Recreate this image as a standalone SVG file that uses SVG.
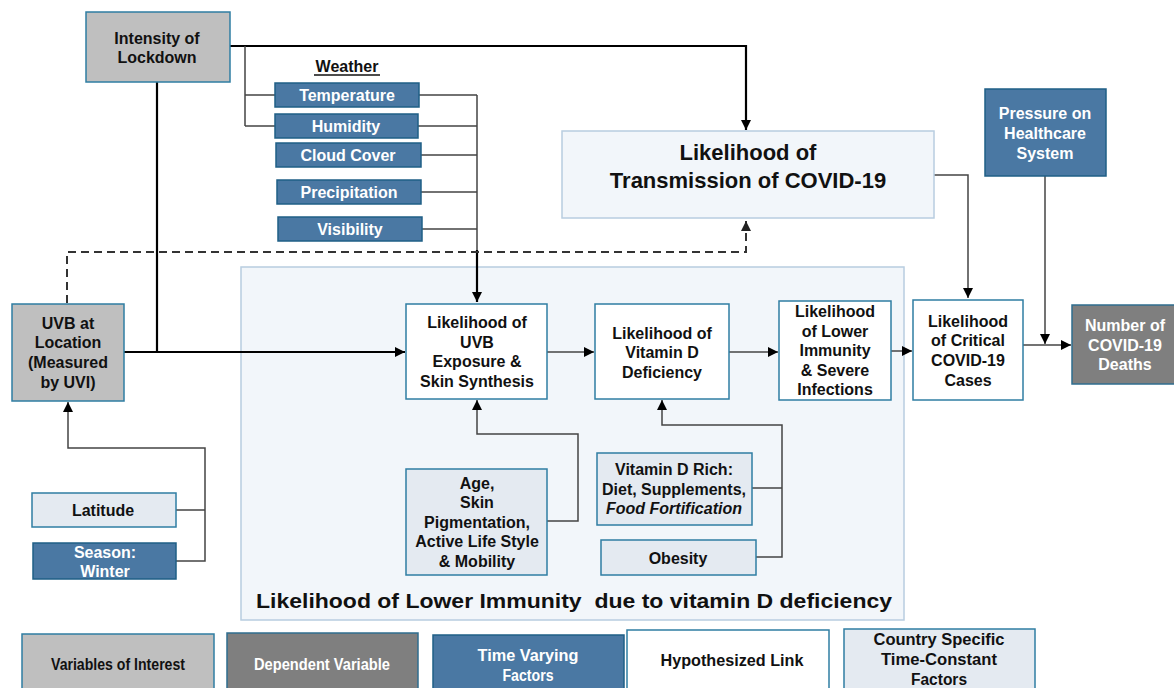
<svg xmlns="http://www.w3.org/2000/svg" width="1174" height="688" viewBox="0 0 1174 688">
<defs>
<marker id="arr" viewBox="0 0 10 10" refX="10" refY="5" markerWidth="11" markerHeight="10" markerUnits="userSpaceOnUse" orient="auto"><path d="M0,0 L10,5 L0,10 Z" fill="#000"/></marker>
<marker id="arrd" viewBox="0 0 10 10" refX="10" refY="5" markerWidth="11" markerHeight="10" markerUnits="userSpaceOnUse" orient="auto"><path d="M0,0 L10,5 L0,10 Z" fill="#222"/></marker>
</defs>
<style>
text{font-family:"Liberation Sans",Arial,sans-serif;font-weight:bold;text-anchor:middle;}
.t{font-size:16px;fill:#111;}
.w{font-size:16px;fill:#fff;}
.lg{font-size:16px;}
.gray{fill:#bfbfbf;stroke:#2f7ea3;stroke-width:1.5;}
.dark{fill:#7f7f7f;stroke:#2f6d8f;stroke-width:1.5;}
.blue{fill:#4a78a3;stroke:#1f5f86;stroke-width:1.5;}
.white{fill:#fff;stroke:#2f7ea3;stroke-width:1.5;}
.light{fill:#e4eaf1;stroke:#2f7ea3;stroke-width:1.5;}
.pale{fill:#f2f6fa;stroke:#b8cde0;stroke-width:1.5;}
.thick{fill:none;stroke:#000;stroke-width:2.2;}
.thin{fill:none;stroke:#444;stroke-width:1.5;}
.dash{fill:none;stroke:#333;stroke-width:2;stroke-dasharray:8,5;}
</style>

<g id="container">
<rect class="pale" x="241" y="267" width="663" height="353"/>
<text x="574" y="608" style="font-size:20px;fill:#111" textLength="636" lengthAdjust="spacingAndGlyphs">Likelihood of Lower Immunity&#160; due to vitamin D deficiency</text>
</g>

<g id="connectors">
<path class="thick" d="M230,46 H746 V130" marker-end="url(#arr)"/>
<path class="thin" d="M245,46 V126 M245,95 H275 M245,126 H275"/>
<path class="thin" d="M419,95 H477 M418,126 H477 M421,155 H477 M421,192 H477 M422,229 H477 M477,95 V252"/>
<path class="thick" d="M477,250 V302" marker-end="url(#arr)"/>
<path class="dash" d="M67,303 V252 H746 V221" marker-end="url(#arrd)"/>
<path class="thick" d="M157,82 V352"/>
<path class="thick" d="M124,352 H405" marker-end="url(#arr)"/>
<path class="thin" d="M547,352 H594" marker-end="url(#arr)"/>
<path class="thin" d="M729,352 H778" marker-end="url(#arr)"/>
<path class="thin" d="M891,351 H912" marker-end="url(#arr)"/>
<path class="thin" d="M934,175 H968 V298" marker-end="url(#arr)"/>
<path class="thin" d="M1045,176 V344" marker-end="url(#arr)"/>
<path class="thin" d="M1023,345 H1071" marker-end="url(#arr)"/>
<path class="thin" d="M547,521 H578 V434 H477 V400" marker-end="url(#arr)"/>
<path class="thin" d="M752,488 H782 M756,557 H782 V425 H662 V400" marker-end="url(#arr)"/>
<path class="thin" d="M176,510 H205 M176,561 H205 V448 H68 V402" marker-end="url(#arr)"/>
</g>

<g id="lockdown">
<rect class="gray" x="86" y="12" width="144" height="70"/>
<text class="t" x="157" y="44">Intensity of</text>
<text class="t" x="157" y="63">Lockdown</text>
</g>

<g id="weather">
<text class="t" x="347" y="72">Weather</text>
<line x1="314" y1="75" x2="380" y2="75" stroke="#111" stroke-width="1.3"/>
</g>
<g id="temperature"><rect class="blue" x="275" y="83" width="144" height="24"/><text class="w" x="347" y="101">Temperature</text></g>
<g id="humidity"><rect class="blue" x="275" y="114" width="143" height="24"/><text class="w" x="346" y="132">Humidity</text></g>
<g id="cloud"><rect class="blue" x="276" y="143" width="145" height="24"/><text class="w" x="348" y="161">Cloud Cover</text></g>
<g id="precip"><rect class="blue" x="277" y="180" width="144" height="24"/><text class="w" x="349" y="198">Precipitation</text></g>
<g id="visibility"><rect class="blue" x="278" y="217" width="144" height="24"/><text class="w" x="350" y="235">Visibility</text></g>

<g id="transmission">
<rect class="pale" x="562" y="131" width="372" height="87"/>
<text x="748" y="160" style="font-size:22px;fill:#111">Likelihood of</text>
<text x="748" y="188" style="font-size:22px;fill:#111">Transmission of COVID-19</text>
</g>

<g id="pressure">
<rect class="blue" x="985" y="89" width="121" height="87"/>
<text class="w" x="1045" y="119">Pressure on</text>
<text class="w" x="1045" y="139">Healthcare</text>
<text class="w" x="1045" y="159">System</text>
</g>

<g id="uvb">
<rect class="gray" x="12" y="304" width="112" height="97"/>
<text class="t" x="68" y="329">UVB at</text>
<text class="t" x="68" y="348">Location</text>
<text class="t" x="68" y="368">(Measured</text>
<text class="t" x="68" y="388">by UVI)</text>
</g>

<g id="exposure">
<rect class="white" x="406" y="304" width="141" height="95"/>
<text class="t" x="477" y="328">Likelihood of</text>
<text class="t" x="477" y="348">UVB</text>
<text class="t" x="477" y="367">Exposure &amp;</text>
<text class="t" x="477" y="387">Skin Synthesis</text>
</g>

<g id="vitd">
<rect class="white" x="595" y="304" width="134" height="95"/>
<text class="t" x="662" y="339">Likelihood of</text>
<text class="t" x="662" y="358">Vitamin D</text>
<text class="t" x="662" y="378">Deficiency</text>
</g>

<g id="immunity">
<rect class="white" x="779" y="301" width="112" height="99"/>
<text class="t" x="835" y="317">Likelihood</text>
<text class="t" x="835" y="337">of Lower</text>
<text class="t" x="835" y="356">Immunity</text>
<text class="t" x="835" y="376">&amp; Severe</text>
<text class="t" x="835" y="395">Infections</text>
</g>

<g id="critical">
<rect class="white" x="913" y="300" width="110" height="100"/>
<text class="t" x="968" y="327">Likelihood</text>
<text class="t" x="968" y="346">of Critical</text>
<text class="t" x="968" y="366">COVID-19</text>
<text class="t" x="968" y="386">Cases</text>
</g>

<g id="deaths">
<rect class="dark" x="1072" y="305" width="104" height="79"/>
<text class="w" x="1125" y="331">Number of</text>
<text class="w" x="1125" y="351">COVID-19</text>
<text class="w" x="1125" y="370">Deaths</text>
</g>

<g id="age">
<rect class="light" x="406" y="469" width="141" height="106"/>
<text class="t" x="477" y="489">Age,</text>
<text class="t" x="477" y="508">Skin</text>
<text class="t" x="477" y="528">Pigmentation,</text>
<text class="t" x="477" y="547">Active Life Style</text>
<text class="t" x="477" y="567">&amp; Mobility</text>
</g>

<g id="vitdrich">
<rect class="light" x="597" y="453" width="155" height="72"/>
<text class="t" x="674" y="475">Vitamin D Rich:</text>
<text class="t" x="674" y="495">Diet, Supplements,</text>
<text class="t" x="674" y="514" font-style="italic">Food Fortification</text>
</g>

<g id="obesity">
<rect class="light" x="601" y="540" width="155" height="35"/>
<text class="t" x="678" y="564">Obesity</text>
</g>

<g id="latitude">
<rect class="light" x="32" y="493" width="144" height="34"/>
<text class="t" x="103" y="516">Latitude</text>
</g>

<g id="season">
<rect class="blue" x="33" y="543" width="143" height="36"/>
<text class="w" x="105" y="558">Season:</text>
<text class="w" x="105" y="577">Winter</text>
</g>

<g id="legend-interest">
<rect class="gray" x="22" y="634" width="192" height="58"/>
<text class="lg" x="118" y="670" fill="#111" textLength="134" lengthAdjust="spacingAndGlyphs">Variables of Interest</text>
</g>
<g id="legend-dependent">
<rect class="dark" x="227" y="633" width="191" height="59"/>
<text class="lg" x="322" y="670" fill="#fff" textLength="136" lengthAdjust="spacingAndGlyphs">Dependent Variable</text>
</g>
<g id="legend-time">
<rect class="blue" x="433" y="635" width="191" height="57"/>
<text class="lg" x="528" y="661" fill="#fff" textLength="101" lengthAdjust="spacingAndGlyphs">Time Varying</text>
<text class="lg" x="528" y="681" fill="#fff" textLength="51" lengthAdjust="spacingAndGlyphs">Factors</text>
</g>
<g id="legend-link">
<rect class="white" x="627" y="630" width="202" height="62"/>
<text class="lg" x="732" y="666" fill="#111" textLength="143" lengthAdjust="spacingAndGlyphs">Hypothesized Link</text>
</g>
<g id="legend-country">
<rect class="light" x="844" y="629" width="191" height="63"/>
<text class="lg" x="939" y="645" fill="#111" textLength="131" lengthAdjust="spacingAndGlyphs">Country Specific</text>
<text class="lg" x="939" y="665" fill="#111" textLength="116" lengthAdjust="spacingAndGlyphs">Time-Constant</text>
<text class="lg" x="939" y="685" fill="#111" textLength="56" lengthAdjust="spacingAndGlyphs">Factors</text>
</g>
</svg>
